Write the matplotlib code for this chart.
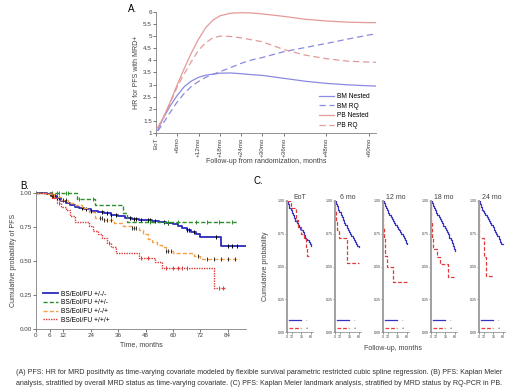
import matplotlib
matplotlib.use("Agg")
import matplotlib.pyplot as plt
import numpy as np

plt.rcParams['font.family'] = ['Liberation Sans', 'DejaVu Sans']

# ---------------- Panel A data ----------------
months_A = [0.5, 2, 4, 6, 8, 10, 12, 14, 16, 18, 21, 24, 27, 30, 36, 42, 48, 54, 60, 62]
bm_nested = [1.12, 1.6, 2.12, 2.56, 2.92, 3.15, 3.3, 3.39, 3.43, 3.47, 3.48, 3.45, 3.41, 3.38, 3.26, 3.14, 3.05, 2.99, 2.95, 2.94]
bm_rq = [1.08, 1.4, 1.85, 2.29, 2.64, 2.93, 3.13, 3.3, 3.42, 3.53, 3.7, 3.88, 4.02, 4.12, 4.36, 4.53, 4.7, 4.88, 5.05, 5.1]
pb_nested = [1.22, 1.62, 2.28, 3.0, 3.68, 4.32, 4.88, 5.35, 5.66, 5.84, 5.95, 5.97, 5.96, 5.92, 5.82, 5.7, 5.63, 5.58, 5.56, 5.56]
pb_rq = [1.22, 1.6, 2.24, 2.91, 3.46, 3.96, 4.42, 4.73, 4.93, 5.0, 4.99, 4.93, 4.85, 4.77, 4.45, 4.22, 4.07, 3.97, 3.93, 3.92]
A_ticks = [0, 6, 12, 18, 24, 30, 36, 48, 60]
A_ticklabels = ['EoT', '+6mo', '+12mo', '+18mo', '+24mo', '+30mo', '+36mo', '+48mo', '+60mo']
A_yticks = [1, 1.5, 2, 2.5, 3, 3.5, 4, 4.5, 5, 5.5, 6]

# ---------------- Panel B data ----------------
b_labels = ['BS/EoI/FU +/-/-', 'BS/EoI/FU +/+/-', 'BS/EoI/FU +/-/+', 'BS/EoI/FU +/+/+']
b1_t = [0, 5, 7, 9, 11, 13, 15, 17, 19, 21, 24, 27, 30, 33, 36, 39, 42, 45, 48, 51, 54, 57, 60, 62, 64, 66, 68, 70, 72, 81, 92]
b1_s = [1.0, 0.99, 0.975, 0.96, 0.945, 0.93, 0.915, 0.9, 0.89, 0.88, 0.87, 0.86, 0.85, 0.84, 0.83, 0.82, 0.81, 0.80, 0.80, 0.795, 0.79, 0.78, 0.77, 0.76, 0.745, 0.73, 0.715, 0.70, 0.675, 0.61, 0.61]
b2_t = [0, 18, 26, 38, 40, 88]
b2_s = [1.0, 0.955, 0.91, 0.85, 0.79, 0.79]
b3_t = [0, 5, 8, 11, 14, 17, 20, 23, 26, 30, 34, 38, 42, 45, 47, 49, 51, 53, 55, 57, 60, 66, 69, 72, 89]
b3_s = [1.0, 0.99, 0.97, 0.95, 0.93, 0.91, 0.89, 0.86, 0.82, 0.80, 0.78, 0.76, 0.745, 0.73, 0.70, 0.66, 0.64, 0.62, 0.60, 0.575, 0.56, 0.56, 0.54, 0.515, 0.515]
b4_t = [0, 7, 9, 11, 13, 15, 17, 23, 25, 27, 29, 31, 33, 35, 45, 52, 55, 78, 83]
b4_s = [1.0, 0.96, 0.93, 0.90, 0.875, 0.83, 0.79, 0.755, 0.72, 0.70, 0.67, 0.635, 0.60, 0.56, 0.52, 0.49, 0.45, 0.30, 0.30]
b1_cens = [6, 6.5, 7, 7.5, 8, 8.5, 9, 10, 20, 22, 24, 29, 31, 33, 35, 41, 43, 44, 46, 49, 50, 52, 56, 58, 66, 67, 69, 79, 84, 86, 88]
b2_cens = [7, 9, 10, 13, 14, 19, 25, 50, 58, 62, 70, 75, 80, 86]
b3_cens = [12, 13, 28, 29, 30, 31, 33, 42, 43, 44, 57, 58, 59, 71, 75, 78, 81, 84, 87]
b4_cens = [10, 32, 46, 49, 57, 60, 62, 64, 66, 80, 82]
B_xticks = [0, 6, 12, 24, 36, 48, 60, 72, 84]
B_yticks = [0, 0.25, 0.5, 0.75, 1.0]

# ---------------- Panel C data ----------------
c_titles = ['EoT', '6 mo', '12 mo', '18 mo', '24 mo']
c_blue_t = [
    [0, 3, 6, 9, 12, 15, 18, 21, 24, 27, 30, 33, 36, 39, 42, 45, 48, 51, 54, 57, 59],
    [0, 2, 5, 8, 11, 14, 17, 20, 23, 26, 29, 32, 35, 38, 41, 44, 47, 50, 53, 56, 59],
    [0, 2, 5, 8, 10, 13, 16, 19, 22, 25, 28, 31, 34, 37, 40, 43, 46, 49, 52, 55, 58, 60],
    [0, 2, 5, 8, 10, 13, 16, 19, 22, 25, 28, 31, 34, 37, 40, 43, 46, 49, 52, 55, 57, 59],
    [0, 2, 5, 8, 10, 13, 16, 19, 22, 25, 28, 31, 34, 37, 40, 43, 46, 49, 52, 54, 61],
]
c_blue_s = [
    [1, 0.98, 0.95, 0.93, 0.91, 0.89, 0.87, 0.85, 0.83, 0.815, 0.80, 0.79, 0.775, 0.76, 0.74, 0.72, 0.71, 0.70, 0.69, 0.67, 0.66],
    [1, 0.98, 0.96, 0.935, 0.915, 0.895, 0.875, 0.855, 0.835, 0.815, 0.795, 0.78, 0.765, 0.75, 0.735, 0.72, 0.705, 0.69, 0.675, 0.66, 0.65],
    [1, 0.985, 0.965, 0.945, 0.93, 0.91, 0.895, 0.88, 0.865, 0.85, 0.835, 0.82, 0.80, 0.785, 0.775, 0.765, 0.75, 0.735, 0.72, 0.70, 0.68, 0.67],
    [1, 0.985, 0.965, 0.945, 0.93, 0.91, 0.89, 0.875, 0.86, 0.845, 0.83, 0.81, 0.795, 0.78, 0.765, 0.745, 0.72, 0.70, 0.68, 0.66, 0.63, 0.62],
    [1, 0.975, 0.955, 0.935, 0.92, 0.905, 0.89, 0.875, 0.86, 0.85, 0.835, 0.82, 0.80, 0.78, 0.765, 0.75, 0.735, 0.71, 0.69, 0.67, 0.67],
]
c_red_t = [
    [0, 10, 23, 28, 36, 43, 48, 50, 58],
    [0, 0.5, 3, 6, 10, 30, 60],
    [0, 0.5, 2, 4, 6, 9, 25, 61],
    [0, 0.5, 2, 4, 14, 22, 43, 57],
    [0, 0.5, 12, 18, 38],
]
c_red_s = [
    [1, 0.95, 0.855, 0.80, 0.75, 0.71, 0.64, 0.58, 0.58],
    [1, 0.93, 0.84, 0.78, 0.715, 0.53, 0.53],
    [1, 0.80, 0.72, 0.64, 0.58, 0.50, 0.38, 0.38],
    [1, 0.85, 0.72, 0.63, 0.575, 0.52, 0.42, 0.42],
    [1, 0.72, 0.575, 0.43, 0.43],
]
c_group_labels = ['-', '+']
C_xticks = [0, 12, 36, 60]
C_yticks = [0, 0.25, 0.5, 0.75, 1.0]

caption = ("(A) PFS: HR for MRD positivity as time-varying covariate modeled by flexible survival parametric restricted cubic spline regression. (B) PFS: Kaplan Meier\n"
           "analysis, stratified by overall MRD status as time-varying covariate. (C) PFS: Kaplan Meier landmark analysis, stratified by MRD status by RQ-PCR in PB.")

W, H = 520, 390
fig = plt.figure(figsize=(W / 100, H / 100), dpi=100)


def ax_px(l, t, r, b):
    return fig.add_axes([l / W, 1 - b / H, (r - l) / W, (b - t) / H])


def style(ax, col='#707070', lw=0.6):
    for s in ['top', 'right']:
        ax.spines[s].set_visible(False)
    for s in ['left', 'bottom']:
        ax.spines[s].set_color(col)
        ax.spines[s].set_linewidth(lw)
    ax.tick_params(colors='#404040', width=0.5, length=2, pad=1)


# ---------------- Panel A ----------------
axA = ax_px(156, 12, 376, 133)
style(axA, '#808080')
blue_a, red_a = '#8a8ae0', '#e39a9a'
axA.plot(months_A, bm_nested, color=blue_a, lw=0.9, label='BM Nested')
axA.plot(months_A, bm_rq, color=blue_a, lw=0.9, ls=(0, (5, 3)), label='BM RQ')
axA.plot(months_A, pb_nested, color=red_a, lw=0.9, label='PB Nested')
axA.plot(months_A, pb_rq, color=red_a, lw=0.9, ls=(0, (5, 3)), label='PB RQ')
axA.set_xlim(0, 62)
axA.set_ylim(1, 6)
axA.set_xticks(A_ticks)
axA.set_xticklabels(A_ticklabels, rotation=90, fontsize=4.5)
axA.set_yticks(A_yticks)
axA.set_yticklabels([f'{v:g}' for v in A_yticks], fontsize=4.5)
axA.set_ylabel('HR for PFS with MRD+', fontsize=5, labelpad=2, color='#404040')
axA.set_xlabel('Follow-up from randomization, months', fontsize=5, labelpad=1, color='#404040')
axA.legend(loc='lower right', fontsize=4.8, frameon=False, handlelength=2.2, handletextpad=0.5,
           labelspacing=0.4, borderaxespad=0.0, bbox_to_anchor=(0.985, 0.01))
fig.text(128 / W, 1 - 9 / H, 'A.', fontsize=7, va='center', ha='left')

# ---------------- Panel B ----------------
axB = ax_px(36, 191, 246, 329)
style(axB, '#808080')
b_cols = ['#2a2ab8', '#2f8f2f', '#f2a24a', '#e03a3a']
b_ls = ['-', (0, (3, 1.5)), (0, (3, 1.5)), (0, (1, 0.8))]
b_lw = [1.3, 1.0, 1.0, 1.0]
series = [(b1_t, b1_s, b1_cens), (b2_t, b2_s, b2_cens), (b3_t, b3_s, b3_cens), (b4_t, b4_s, b4_cens)]
cens_cols = ['black', b_cols[1], '#303030', b_cols[3]]
for i, (t, s, c) in enumerate(series):
    axB.plot(t, s, drawstyle='steps-post', color=b_cols[i], ls=b_ls[i], lw=b_lw[i], label=b_labels[i])
    idx = np.searchsorted(t, c, side='right') - 1
    cy = np.array(s)[idx]
    axB.plot(c, cy, ls='none', marker='|', ms=2.5, mew=0.7, color=cens_cols[i])
axB.set_xlim(0, 92)
axB.set_ylim(0, 1.015)
axB.set_xticks(B_xticks)
axB.set_xticklabels([str(v) for v in B_xticks], fontsize=4.5)
axB.set_yticks(B_yticks)
axB.set_yticklabels([f'{v:.2f}' for v in B_yticks], fontsize=4.5)
axB.set_ylabel('Cumulative probability of PFS', fontsize=5, labelpad=2, color='#404040')
axB.set_xlabel('Time, months', fontsize=5, labelpad=2, color='#404040')
axB.legend(loc='lower left', fontsize=4.8, frameon=False, handlelength=2.2, handletextpad=0.5,
           labelspacing=0.25, borderaxespad=0.0, bbox_to_anchor=(0.02, 0.02))
fig.text(20 / W, 1 - 186 / H, 'B.', fontsize=7, va='center', ha='left')

# ---------------- Panel C ----------------
c_left = [287, 335, 383, 431, 479]
for k in range(5):
    ax = ax_px(c_left[k], 201, c_left[k] + 26, 332)
    style(ax, '#808080', 0.5)
    ax.spines['left'].set_linewidth(1.4)
    ax.spines['left'].set_color('#a0a0a0')
    ax.plot(c_blue_t[k], c_blue_s[k], drawstyle='steps-post', color='#3535c0', lw=0.9, label=c_group_labels[0])
    ax.plot(c_red_t[k], c_red_s[k], drawstyle='steps-post', color='#e03a3a', lw=0.9, ls=(0, (3, 1.5)), label=c_group_labels[1])
    ax.set_xlim(0, 65)
    ax.set_ylim(0, 1.0)
    ax.set_xticks(C_xticks)
    ax.set_xticklabels([str(v) for v in C_xticks], fontsize=2.6)
    ax.set_yticks(C_yticks)
    ax.set_yticklabels([f'{v:.2f}' for v in C_yticks], fontsize=2.6)
    ax.tick_params(length=1.2, pad=0.6, width=0.4)
    ax.set_title(c_titles[k], fontsize=5, pad=1.5, color='#404040')
    ax.legend(loc='lower left', fontsize=2.6, frameon=False, handlelength=3.2,
              labelspacing=0.9, borderaxespad=0.2, handletextpad=1.5)
    if k == 0:
        ax.set_ylabel('Cumulative probability', fontsize=5, labelpad=6, color='#404040')
fig.text(393 / W, 1 - 348 / H, 'Follow-up, months', fontsize=5, ha='center', va='center', color='#404040')
fig.text(253 / W, 1 - 181 / H, 'C.', fontsize=7, va='center', ha='left')

# ---------------- Caption ----------------
fig.text(16 / W, 1 - 378 / H, caption, fontsize=5.1, ha='left', va='center', linespacing=1.75, color='#303030')

fig.savefig('out.png', dpi=100)
